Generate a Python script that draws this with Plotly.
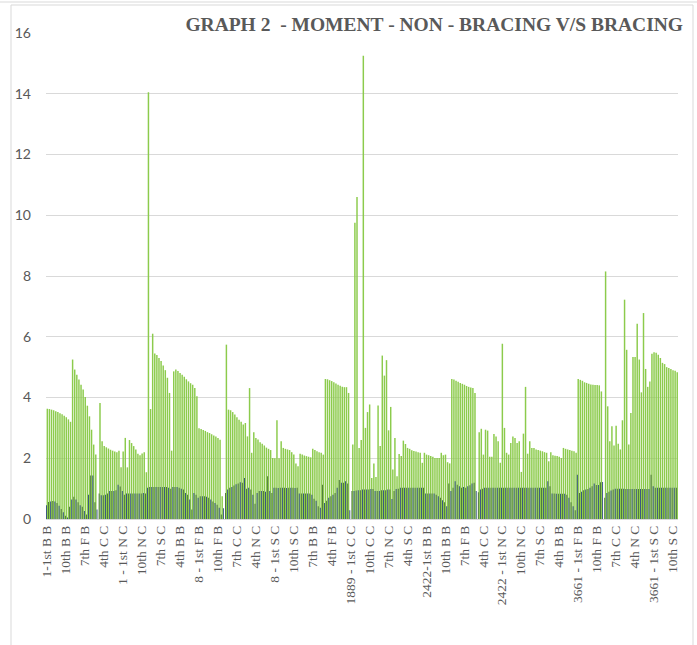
import plotly.graph_objects as go

# ---------------- data ----------------
buildings = ["1", "8", "1889", "2422", "3661"]
member_types = ["B B", "F B", "C C", "N C", "S C"]
floors = ["1st", "2nd", "3rd", "4th", "5th", "6th", "7th", "8th", "9th", "10th", "11th", "12th"]

# Non-bracing moment (tall green bars), 60 values per building (5 types x 12 floors)
non_bracing_1 = [3.63, 3.62, 3.60, 3.58, 3.55, 3.52, 3.48, 3.45, 3.40, 3.35, 3.28, 3.20,
                 5.25, 4.92, 4.75, 4.59, 4.42, 4.26, 4.02, 3.73, 3.38, 2.94, 2.45, 2.12,
                 0.00, 3.82, 2.56, 2.40, 2.36, 2.32, 2.28, 2.25, 2.22, 2.20, 2.25, 1.70,
                 2.22, 2.67, 1.70, 2.60, 2.50, 2.40, 2.29, 2.15, 2.10, 2.16, 2.20, 1.54,
                 14.05, 3.62, 6.10, 5.45, 5.40, 5.30, 5.20, 5.05, 4.90, 4.65, 4.15, 2.25]
non_bracing_8 = [4.86, 4.92, 4.87, 4.81, 4.75, 4.68, 4.60, 4.53, 4.47, 4.42, 4.31, 4.04,
                 2.99, 2.96, 2.93, 2.90, 2.86, 2.83, 2.79, 2.75, 2.72, 2.67, 2.61, 0.75,
                 0.00, 5.74, 3.60, 3.58, 3.52, 3.44, 3.35, 3.27, 3.20, 3.11, 3.16, 2.72,
                 4.31, 2.18, 2.86, 2.67, 2.62, 2.53, 2.48, 2.42, 2.35, 2.31, 2.27, 2.01,
                 2.00, 3.25, 2.00, 2.56, 2.34, 2.31, 2.29, 2.27, 2.20, 2.12, 1.83, 1.74]
non_bracing_1889 = [2.15, 2.12, 2.09, 2.07, 2.05, 2.03, 2.31, 2.27, 2.23, 2.20, 2.18, 2.12,
                    4.61, 4.60, 4.57, 4.54, 4.50, 4.46, 4.42, 4.39, 4.35, 4.34, 4.34, 4.15,
                    0.00, 2.45, 9.75, 10.60, 2.34, 2.60, 15.25, 3.00, 3.52, 3.77, 1.35, 1.83,
                    1.38, 3.74, 2.40, 5.38, 4.72, 5.23, 2.92, 3.69, 1.63, 2.67, 1.41, 2.14,
                    2.07, 2.58, 2.47, 2.34, 2.31, 2.26, 2.24, 2.22, 2.20, 2.18, 1.85, 2.18]
non_bracing_2422 = [2.12, 2.10, 2.07, 2.05, 2.01, 2.01, 2.01, 2.18, 2.10, 2.12, 1.87, 1.83,
                    4.61, 4.59, 4.55, 4.52, 4.48, 4.45, 4.42, 4.38, 4.35, 4.33, 4.31, 4.15,
                    0.00, 2.86, 2.97, 2.12, 2.94, 2.91, 2.05, 2.05, 2.80, 2.72, 2.56, 1.85,
                    5.77, 3.00, 2.18, 2.12, 2.50, 2.72, 2.67, 2.50, 2.56, 1.55, 2.81, 4.35,
                    2.15, 2.56, 2.34, 2.34, 2.29, 2.27, 2.25, 2.23, 2.20, 2.18, 1.90, 2.20]
non_bracing_3661 = [2.10, 2.08, 2.07, 2.05, 2.01, 2.34, 2.31, 2.29, 2.27, 2.25, 2.23, 2.18,
                    4.61, 4.58, 4.55, 4.50, 4.48, 4.45, 4.43, 4.42, 4.41, 4.41, 4.40, 4.20,
                    0.00, 8.15, 3.71, 2.56, 3.05, 2.42, 3.07, 2.48, 2.29, 3.25, 7.22, 5.57,
                    2.45, 3.49, 5.33, 5.33, 6.43, 5.25, 4.17, 6.78, 4.94, 4.35, 4.53, 5.44,
                    5.49, 5.47, 5.41, 5.30, 5.14, 5.10, 5.00, 4.97, 4.94, 4.90, 4.88, 4.83]

# Bracing moment (short dark bars)
bracing_1 = [0.45, 0.56, 0.58, 0.59, 0.58, 0.53, 0.44, 0.33, 0.22, 0.11, 0.05, 0.40,
             0.64, 0.73, 0.64, 0.55, 0.45, 0.40, 0.26, 0.15, 0.80, 1.43, 1.43, 0.55,
             0.31, 0.84, 0.78, 0.78, 0.80, 0.84, 0.92, 0.92, 0.92, 0.95, 1.13, 1.07,
             0.92, 0.80, 0.84, 0.84, 0.84, 0.84, 0.84, 0.84, 0.84, 0.84, 0.86, 0.84,
             1.03, 1.05, 1.05, 1.05, 1.05, 1.05, 1.05, 1.05, 1.05, 1.05, 1.03, 1.00]
bracing_8 = [1.05, 1.05, 1.05, 1.03, 1.00, 0.97, 0.86, 0.80, 0.64, 0.31, 0.86, 0.80,
             0.70, 0.75, 0.75, 0.75, 0.73, 0.70, 0.64, 0.58, 0.53, 0.47, 0.37, 0.15,
             0.35, 0.86, 0.97, 1.03, 1.05, 1.10, 1.14, 1.17, 1.21, 1.19, 1.35, 1.00,
             1.03, 0.97, 0.80, 0.50, 0.86, 0.92, 0.92, 0.92, 0.90, 1.41, 0.92, 0.86,
             1.03, 1.03, 1.02, 1.03, 1.03, 1.03, 1.02, 1.03, 1.03, 1.03, 1.02, 1.03]
bracing_1889 = [0.84, 0.84, 0.84, 0.84, 0.84, 0.84, 0.80, 0.67, 0.60, 0.42, 0.37, 1.13,
                0.53, 0.60, 0.70, 0.75, 0.80, 0.86, 1.03, 1.28, 1.19, 1.19, 1.24, 1.17,
                0.29, 0.92, 0.92, 0.94, 0.95, 0.95, 0.97, 0.97, 0.97, 0.97, 0.99, 0.99,
                0.92, 0.92, 0.92, 0.95, 0.95, 0.95, 0.97, 0.97, 0.66, 0.92, 0.99, 1.00,
                1.03, 1.03, 1.03, 1.03, 1.03, 1.03, 1.03, 1.03, 1.03, 1.03, 1.03, 1.03]
bracing_2422 = [0.84, 0.84, 0.84, 0.84, 0.84, 0.80, 0.75, 0.70, 0.62, 0.55, 0.42, 1.17,
                0.92, 1.03, 1.24, 1.13, 1.08, 1.03, 1.05, 1.03, 1.08, 1.11, 1.17, 1.19,
                0.92, 0.88, 0.97, 1.00, 1.03, 1.03, 1.03, 1.03, 1.03, 1.03, 1.03, 1.03,
                1.03, 1.03, 1.03, 1.03, 1.03, 1.03, 1.03, 1.03, 1.03, 1.03, 1.03, 1.03,
                1.03, 1.03, 1.03, 1.03, 1.03, 1.03, 1.03, 1.03, 1.03, 1.03, 1.24, 1.08]
bracing_3661 = [0.84, 0.84, 0.83, 0.83, 0.83, 0.83, 0.83, 0.80, 0.70, 0.55, 0.42, 0.29,
                1.46, 0.86, 0.90, 0.95, 0.97, 0.99, 1.03, 1.08, 1.17, 1.12, 1.12, 1.21,
                1.22, 0.70, 0.86, 0.90, 0.94, 0.97, 1.00, 1.00, 1.00, 1.00, 1.00, 0.99,
                0.99, 0.99, 0.99, 0.99, 0.99, 0.99, 0.99, 0.99, 0.99, 0.99, 0.99, 1.46,
                1.08, 1.03, 1.03, 1.03, 1.03, 1.03, 1.03, 1.03, 1.03, 1.03, 1.03, 1.03]

# ---------------- build categories ----------------
categories = []
for b in buildings:
    for t in member_types:
        for f in floors:
            if f == "1st":
                categories.append(f"{b}-1st {t}" if t == "B B" else f"{b} - 1st {t}")
            else:
                categories.append(f"{f} {t}")

non_bracing = non_bracing_1 + non_bracing_8 + non_bracing_1889 + non_bracing_2422 + non_bracing_3661
bracing = bracing_1 + bracing_8 + bracing_1889 + bracing_2422 + bracing_3661
idx = list(range(len(categories)))
tick_idx = idx[::9]
tick_text = [categories[i] for i in tick_idx]

W, H = 697, 645
L, R, T, B = 46, 19, 33, 126
pw, ph = W - L - R, H - T - B

def px(x):
    return (x - L) / pw

def py(y):
    return (H - B - y) / ph

dark_cols = ["#264478" if i % 2 == 0 else "#3E6B2E" for i in idx]

fig = go.Figure()
fig.add_trace(go.Bar(x=idx, y=non_bracing, name="Non-Bracing", marker=dict(color="#8CCB4C", line=dict(width=0)),
                     width=0.70, offset=-0.22))
fig.add_trace(go.Bar(x=idx, y=bracing, name="Bracing", marker=dict(color=dark_cols, line=dict(width=0)),
                     width=0.42, offset=-0.5))

fig.update_layout(
    width=W, height=H,
    margin=dict(l=L, r=R, t=T, b=B),
    paper_bgcolor="white", plot_bgcolor="white",
    barmode="overlay",
    showlegend=False,
    title=dict(text="<b>GRAPH 2 &nbsp;- MOMENT - NON - BRACING V/S BRACING</b>",
               font=dict(family="Liberation Serif", size=19.5, color="#595959"),
               xref="container", yref="container", x=683 / W, xanchor="right",
               y=1 - 24 / H, yanchor="middle"),
    xaxis=dict(range=[-0.5, len(idx) - 0.5], tickmode="array", tickvals=tick_idx, ticktext=tick_text,
               tickangle=-90, tickfont=dict(family="Liberation Serif", size=13.5, color="#595959"),
               showgrid=False, ticks="", showline=False, zeroline=False, ticklabelstandoff=3),
    yaxis=dict(range=[0, 16], dtick=2, showgrid=True, gridcolor="#D9D9D9", gridwidth=1,
               zeroline=True, zerolinecolor="#D9D9D9", zerolinewidth=1,
               tickfont=dict(family="Lato", size=14, color="#595959"), ticks="",
               ticklabelstandoff=14),
    shapes=[
        dict(type="line", xref="paper", yref="paper", x0=px(0), x1=px(W), y0=py(2), y1=py(2),
             line=dict(color="#D9D9D9", width=1), layer="below"),
        dict(type="rect", xref="paper", yref="paper", x0=px(11), x1=px(693), y0=py(5), y1=py(700),
             line=dict(color="#D9D9D9", width=1), layer="below"),
    ],
)

fig.write_html("out.html", config={"staticPlot": True},
               post_script="document.body.style.margin='0';document.body.style.overflow='hidden';")
